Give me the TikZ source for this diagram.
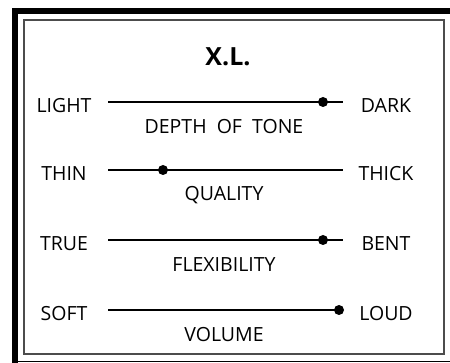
\documentclass[tikz,border=0pt]{standalone}
\usepackage{fontspec}
\setmainfont{Open Sans}
\usetikzlibrary{positioning}

\begin{document}
\begin{tikzpicture}[
  x=1pt, y=-1pt,
  pole/.style={font=\fontsize{19.5}{19.5}\selectfont, inner sep=0pt},
  caption/.style={font=\fontsize{19.5}{19.5}\selectfont, inner sep=0pt},
  axis/.style={line width=2.5pt},
  knob/.style={circle, fill, inner sep=0pt, minimum size=10pt}]
\useasboundingbox (0,0) rectangle (450,363);
% frame
\fill (12,8) rectangle (450,14);
\fill (12,8) rectangle (18,363);
\draw[line width=1pt] (18,362) -- (450,362);
\draw[line width=1.5pt, black!70] (24,20) rectangle (444,354);

\node[font=\fontsize{25}{25}\selectfont\bfseries] (title) at (228,57) {X.L.};

% sliders: y, left pole, right pole, caption, knob
\foreach \y/\lo/\hi/\what/\k [count=\i] in
  {102/LIGHT/DARK/DEPTH\ \ OF\ \ TONE/323,
   170/THIN/THICK/QUALITY/163,
   240/TRUE/BENT/FLEXIBILITY/323,
   310/SOFT/LOUD/VOLUME/339}
{
  \coordinate (a\i) at (108,\y);
  \coordinate (b\i) at (343,\y);
  \node[pole] (lo\i) at (64,\y+3.5) {\lo};
  \node[pole] (hi\i) at (386,\y+3.5) {\hi};
  \node[caption] (cap\i) at (224,\y+25) {\what};
  \draw[axis] (a\i) -- (b\i);
  \node[knob] (k\i) at (\k,\y) {};
}
\end{tikzpicture}
\end{document}
